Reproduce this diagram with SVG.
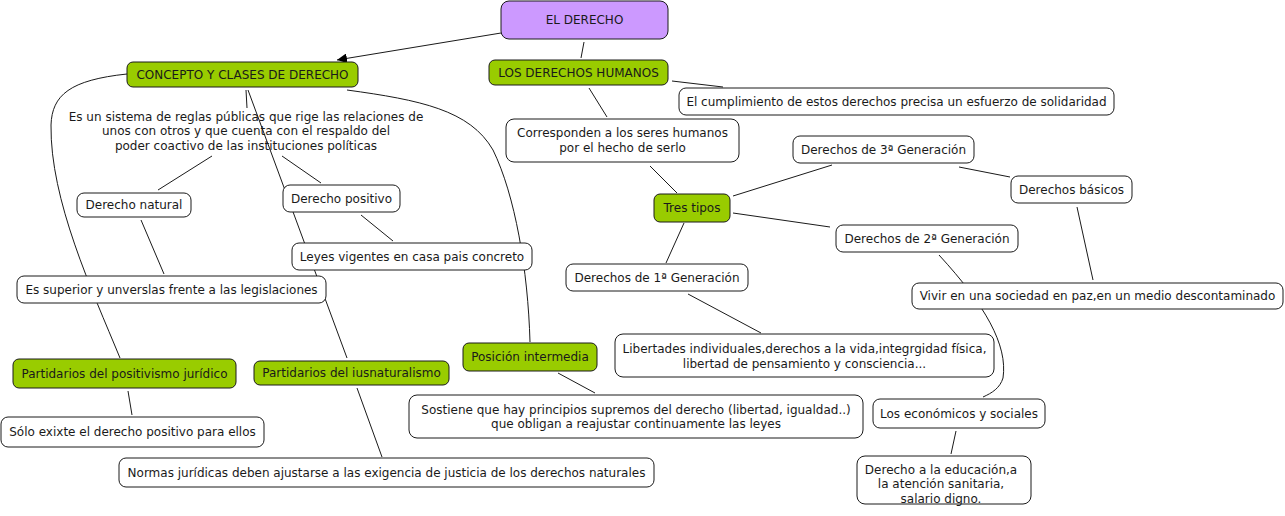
<svg xmlns="http://www.w3.org/2000/svg" width="1285" height="516" viewBox="0 0 1285 516">
<style>
.box{fill:#ffffff;stroke:#1a1a1a;stroke-width:1}
.green{fill:#99cc00;stroke:#1a1a1a;stroke-width:1}
.purple{fill:#cc99ff;stroke:#1a1a1a;stroke-width:1}
text{font-family:"DejaVu Sans",Verdana,sans-serif;font-size:12px;fill:#1a1a1a;text-anchor:middle}
.c{fill:none;stroke:#1a1a1a;stroke-width:1}
</style>
<defs>
<marker id="arr" viewBox="0 0 10 10" refX="10" refY="5" markerWidth="10" markerHeight="10" markerUnits="userSpaceOnUse" orient="auto">
<path d="M0,0 L10,5 L0,10 z" fill="#000"/>
</marker>
</defs>
<rect width="1285" height="516" fill="#ffffff"/>
<g id="connectors">
<line class="c" x1="501" y1="33" x2="337" y2="60" marker-end="url(#arr)"/>
<line class="c" x1="584" y1="42" x2="581" y2="58"/>
<line class="c" x1="672" y1="81" x2="723" y2="87"/>
<line class="c" x1="589" y1="88" x2="607" y2="117"/>
<line class="c" x1="650" y1="166" x2="677" y2="193"/>
<line class="c" x1="733" y1="196" x2="832" y2="165"/>
<line class="c" x1="959" y1="167" x2="1010" y2="177"/>
<line class="c" x1="1077" y1="207" x2="1093" y2="280"/>
<line class="c" x1="733" y1="213" x2="830" y2="227"/>
<line class="c" x1="684" y1="223" x2="666" y2="263"/>
<line class="c" x1="688" y1="294" x2="761" y2="333"/>
<path class="c" d="M939,255 C985,305 1008,345 1003,378 C1000,388 992,393 983,397"/>
<line class="c" x1="956" y1="431" x2="951" y2="454"/>
<line class="c" x1="246" y1="90" x2="247" y2="108"/>
<line class="c" x1="248" y1="90" x2="347" y2="358"/>
<path class="c" d="M127,74 C70,80 52,95 51,125 C50,200 92,290 120,358"/>
<path class="c" d="M347,90 C420,100 470,110 493,150 C515,195 528,270 530,342"/>
<line class="c" x1="212" y1="156" x2="158" y2="190"/>
<line class="c" x1="282" y1="156" x2="321" y2="183"/>
<line class="c" x1="141" y1="220" x2="164" y2="274"/>
<line class="c" x1="361" y1="215" x2="393" y2="241"/>
<line class="c" x1="128" y1="391" x2="132" y2="415"/>
<line class="c" x1="357" y1="388" x2="382" y2="457"/>
<line class="c" x1="558" y1="373" x2="595" y2="393"/>
</g>
<g id="n-el-derecho"><rect class="purple" x="501" y="1" width="167" height="38" rx="8"/><text x="584.5" y="24">EL DERECHO</text></g>
<g id="n-concepto"><rect class="green" x="127" y="62" width="231" height="25" rx="6"/><text x="242.5" y="78.5">CONCEPTO Y CLASES DE DERECHO</text></g>
<g id="n-ddhh"><rect class="green" x="489" y="60" width="179" height="25" rx="6"/><text x="578.5" y="76.5">LOS DERECHOS HUMANOS</text></g>
<g id="n-cumplimiento"><rect class="box" x="679" y="88" width="435" height="27" rx="7"/><text x="896.5" y="105.5">El cumplimiento de estos derechos precisa un esfuerzo de solidaridad</text></g>
<g id="n-corresponden"><rect class="box" x="506" y="119" width="233" height="43" rx="8"/><text x="622.5" y="137">Corresponden a los seres humanos</text><text x="622.5" y="152">por el hecho de serlo</text></g>
<g id="n-3gen"><rect class="box" x="793" y="136" width="181" height="27" rx="7"/><text x="883.5" y="153.5">Derechos de 3ª Generación</text></g>
<g id="n-basicos"><rect class="box" x="1011" y="176" width="121" height="27" rx="7"/><text x="1071.5" y="193.5">Derechos básicos</text></g>
<g id="n-tres-tipos"><rect class="green" x="654" y="194" width="76" height="28" rx="6"/><text x="692" y="212">Tres tipos</text></g>
<g id="n-2gen"><rect class="box" x="836" y="225" width="182" height="27" rx="7"/><text x="927" y="242.5">Derechos de 2ª Generación</text></g>
<g id="n-1gen"><rect class="box" x="566" y="264" width="182" height="27" rx="7"/><text x="657" y="281.5">Derechos de 1ª Generación</text></g>
<g id="n-vivir"><rect class="box" x="912" y="283" width="371" height="26" rx="7"/><text x="1097.5" y="300">Vivir en una sociedad en paz,en un medio descontaminado</text></g>
<g id="n-libertades"><rect class="box" x="615" y="334" width="379" height="43" rx="8"/><text x="804.5" y="353">Libertades individuales,derechos a la vida,integrgidad física,</text><text x="804.5" y="368">libertad de pensamiento y consciencia...</text></g>
<g id="n-sistema"><text x="246" y="120.5">Es un sistema de reglas públicas que rige las relaciones de</text><text x="246" y="135">unos con otros y que cuenta con el respaldo del</text><text x="246" y="149.5">poder coactivo de las instituciones políticas</text></g>
<g id="n-natural"><rect class="box" x="77" y="193" width="114" height="24" rx="7"/><text x="134" y="209">Derecho natural</text></g>
<g id="n-positivo"><rect class="box" x="283" y="185" width="117" height="27" rx="7"/><text x="341.5" y="202.5">Derecho positivo</text></g>
<g id="n-leyes"><rect class="box" x="292" y="243" width="240" height="27" rx="7"/><text x="412" y="260.5">Leyes vigentes en casa pais concreto</text></g>
<g id="n-superior"><rect class="box" x="17" y="276" width="309" height="27" rx="7"/><text x="171.5" y="293.5">Es superior y unverslas frente a las legislaciones</text></g>
<g id="n-positivismo"><rect class="green" x="13" y="359" width="223" height="29" rx="6"/><text x="124.5" y="377.5">Partidarios del positivismo jurídico</text></g>
<g id="n-iusnat"><rect class="green" x="254" y="361" width="195" height="24" rx="6"/><text x="351.5" y="377">Partidarios del iusnaturalismo</text></g>
<g id="n-posicion"><rect class="green" x="463" y="343" width="134" height="28" rx="6"/><text x="530" y="361">Posición intermedia</text></g>
<g id="n-sostiene"><rect class="box" x="409" y="395" width="454" height="43" rx="8"/><text x="636" y="414">Sostiene que hay principios supremos del derecho (libertad, igualdad..)</text><text x="636" y="428">que obligan a reajustar continuamente las leyes</text></g>
<g id="n-solo"><rect class="box" x="1" y="417" width="263" height="30" rx="7"/><text x="132.5" y="436">Sólo exixte el derecho positivo para ellos</text></g>
<g id="n-normas"><rect class="box" x="119" y="458" width="535" height="29" rx="7"/><text x="386.5" y="476.5">Normas jurídicas deben ajustarse a las exigencia de justicia de los derechos naturales</text></g>
<g id="n-economicos"><rect class="box" x="873" y="399" width="172" height="29" rx="7"/><text x="959" y="417.5">Los económicos y sociales</text></g>
<g id="n-educacion"><rect class="box" x="857" y="456" width="174" height="48" rx="8"/><text x="941" y="474">Derecho a la educación,a</text><text x="941" y="488">la atención sanitaria,</text><text x="941" y="502.5">salario digno.</text></g>
</svg>
